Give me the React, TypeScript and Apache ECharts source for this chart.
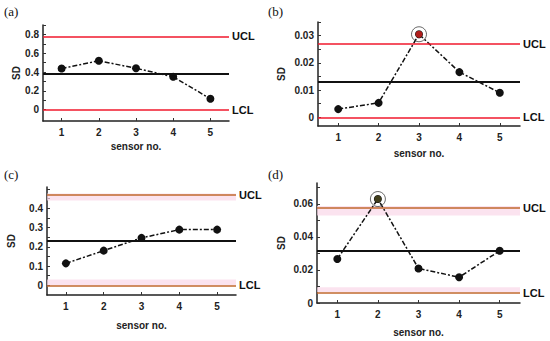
import React, { useEffect, useRef } from "react";
import * as echarts from "echarts";

const sensors = [1, 2, 3, 4, 5];
const sdA = [0.437, 0.52, 0.44, 0.35, 0.116];
const sdB = [0.003, 0.0053, 0.0305, 0.0166, 0.009];
const sdC = [0.114, 0.18, 0.246, 0.289, 0.289];
const sdD = [0.0266, 0.0629, 0.0209, 0.0156, 0.0316];

const uclValues = [0.78, 0.027, 0.469, 0.0574];
const clValues = [0.377, 0.013, 0.229, 0.0316];
const lclValues = [0, 0, 0, 0.0061];

const uclBands: (number[] | null)[] = [null, null, [0.44, 0.476], [0.053, 0.0587]];
const lclBands: (number[] | null)[] = [null, null, [0, 0.03], [0.0066, 0.0096]];

const outlierIndex = [-1, 2, -1, 1];
const panelNames = ["(a)", "(b)", "(c)", "(d)"];

const yLabelsA = [0, 0.2, 0.4, 0.6, 0.8];
const yLabelsB = [0, 0.01, 0.02, 0.03];
const yLabelsC = [0, 0.1, 0.2, 0.3, 0.4];
const yLabelsD = [0, 0.02, 0.04, 0.06];
const yTicksA = [0, 0.1, 0.2, 0.3, 0.4, 0.5, 0.6, 0.7, 0.8, 0.9];
const yTicksB = [0, 0.005, 0.01, 0.015, 0.02, 0.025, 0.03, 0.035];
const yTicksC = [0, 0.05, 0.1, 0.15, 0.2, 0.25, 0.3, 0.35, 0.4, 0.45, 0.5];
const yTicksD = [0, 0.01, 0.02, 0.03, 0.04, 0.05, 0.06, 0.07];

export default function App() {
  const ref = useRef<HTMLDivElement>(null);
  useEffect(() => {
    document.body.style.margin = "0";
    if (!ref.current) return;
    const chart = echarts.init(ref.current, null, { renderer: "svg" });

    const allData = [sdA, sdB, sdC, sdD];
    const grids = [
      { left: 43, top: 25, width: 186, height: 96 },
      { left: 318, top: 22, width: 202, height: 104 },
      { left: 47, top: 187, width: 189, height: 108 },
      { left: 317, top: 183, width: 203, height: 120 },
    ];
    const yRanges = [
      [-0.12, 0.9],
      [-0.0032, 0.035],
      [-0.05, 0.51],
      [0, 0.0726],
    ];
    const yLabels = [yLabelsA, yLabelsB, yLabelsC, yLabelsD];
    const yTicks = [yTicksA, yTicksB, yTicksC, yTicksD];
    const yNameGaps = [20, 32, 31, 31];
    const xNameGaps = [20, 22, 25, 24];
    const limitColors = ["#f0182c", "#f0182c", "#c0682e", "#c0682e"];
    const outlierFill = ["", "#d8201e", "", "#4e4a1e"];

    const font = "Liberation Sans, Arial, sans-serif";
    const xAxis: any[] = [];
    const yAxis: any[] = [];
    const series: any[] = [];

    for (let i = 0; i < 4; i++) {
      xAxis.push({
        type: "value",
        gridIndex: i,
        min: 0.5,
        max: 5.5,
        name: "sensor no.",
        nameLocation: "middle",
        nameGap: xNameGaps[i],
        nameTextStyle: { fontFamily: font, fontWeight: "bold", fontSize: 10, color: "#222" },
        axisLine: { show: true, onZero: false, lineStyle: { color: "#222", width: 1.5 } },
        axisTick: { show: true, inside: true, length: 3, customValues: sensors, lineStyle: { color: "#333" } },
        axisLabel: { customValues: sensors, fontFamily: font, fontWeight: "bold", fontSize: 10, color: "#222", margin: 6 },
        splitLine: { show: false },
      });
      yAxis.push({
        type: "value",
        gridIndex: i,
        min: yRanges[i][0],
        max: yRanges[i][1],
        name: "SD",
        nameLocation: "middle",
        nameGap: yNameGaps[i],
        nameTextStyle: { fontFamily: font, fontWeight: "bold", fontSize: 10, color: "#222" },
        axisLine: { show: true, onZero: false, lineStyle: { color: "#222", width: 1.5 } },
        axisTick: { show: true, inside: true, length: 3, customValues: yTicks[i], lineStyle: { color: "#333" } },
        axisLabel: { customValues: yLabels[i], fontFamily: font, fontWeight: "bold", fontSize: 10, color: "#222", margin: 4 },
        splitLine: { show: false },
      });

      const data = sensors.map((s, k) => [s, allData[i][k]]);
      const markAreaData: any[] = [];
      const ub = uclBands[i];
      const lb = lclBands[i];
      if (ub) markAreaData.push([{ yAxis: ub[0] }, { yAxis: ub[1] }]);
      if (lb) markAreaData.push([{ yAxis: lb[0] }, { yAxis: lb[1] }]);

      const lblStyle = {
        show: true,
        position: "end",
        distance: 3,
        fontFamily: font,
        fontWeight: "bold",
        fontSize: 11,
        color: "#111",
      };

      series.push({
        type: "line",
        xAxisIndex: i,
        yAxisIndex: i,
        data,
        symbol: "circle",
        symbolSize: 8,
        itemStyle: { color: "#111" },
        lineStyle: { color: "#111", width: 1.5, type: [5, 2, 2, 2] },
        z: 3,
        markArea: markAreaData.length
          ? { silent: true, precision: 6, itemStyle: { color: "rgba(250,215,232,0.7)" }, data: markAreaData }
          : undefined,
        markLine: {
          silent: true,
          precision: 6,
          symbol: ["none", "none"],
          animation: false,
          data: [
            { yAxis: uclValues[i], lineStyle: { color: limitColors[i], width: 1.5, type: "solid" }, label: { ...lblStyle, formatter: "UCL" } },
            { yAxis: clValues[i], lineStyle: { color: "#111", width: 2, type: "solid" }, label: { show: false } },
            { yAxis: lclValues[i], lineStyle: { color: limitColors[i], width: 1.5, type: "solid" }, label: { ...lblStyle, formatter: "LCL" } },
          ],
        },
      });

      if (outlierIndex[i] >= 0) {
        const k = outlierIndex[i];
        series.push({
          type: "scatter",
          xAxisIndex: i,
          yAxisIndex: i,
          data: [[sensors[k], allData[i][k]]],
          symbol: "circle",
          symbolSize: 7,
          itemStyle: { color: outlierFill[i] },
          z: 5,
        });
        series.push({
          type: "scatter",
          xAxisIndex: i,
          yAxisIndex: i,
          data: [[sensors[k], allData[i][k]]],
          symbol: "circle",
          symbolSize: 15,
          itemStyle: { color: "rgba(0,0,0,0)", borderColor: "#444", borderWidth: 1 },
          z: 6,
        });
      }
    }

    const labelPos = [
      [4, 13],
      [268, 13],
      [4, 176],
      [268, 176],
    ];
    const graphic = panelNames.map((t, i) => ({
      type: "text",
      left: labelPos[i][0],
      top: labelPos[i][1] - 8,
      style: { text: t, font: "13px 'Liberation Serif', serif", fill: "#111" },
    }));

    chart.setOption({
      animation: false,
      backgroundColor: "#fff",
      grid: grids,
      xAxis,
      yAxis,
      series,
      graphic,
    });
    return () => chart.dispose();
  }, []);
  return <div ref={ref} style={{ width: 550, height: 341 }} />;
}
